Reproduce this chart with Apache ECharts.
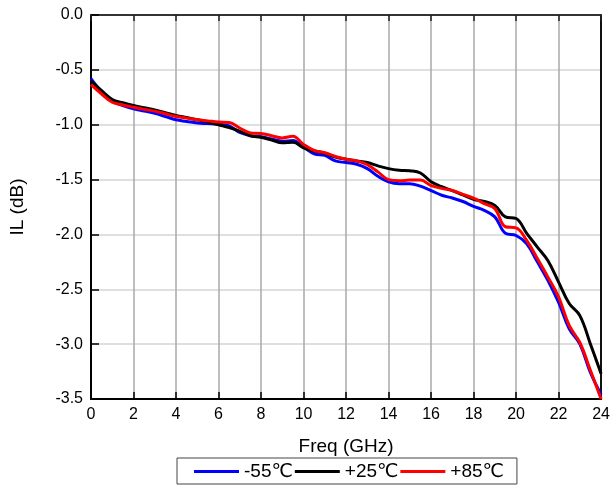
<!DOCTYPE html>
<html>
<head>
<meta charset="utf-8">
<script src="https://cdn.jsdelivr.net/npm/echarts@6/dist/echarts.min.js"></script>
<style>
  html, body { margin: 0; padding: 0; background: #fff; }
  #chart { width: 613px; height: 489px; }
</style>
</head>
<body>
<div id="chart"></div>
<script>
// 频率点 0 ~ 24 GHz，步长 0.5
const freq = [0, 0.5, 1, 1.5, 2, 2.5, 3, 3.5, 4, 4.5, 5, 5.5, 6, 6.5, 7, 7.5, 8, 8.5, 9, 9.5,
  10, 10.5, 11, 11.5, 12, 12.5, 13, 13.5, 14, 14.5, 15, 15.5, 16, 16.5, 17, 17.5, 18, 18.5, 19, 19.5,
  20, 20.5, 21, 21.5, 22, 22.5, 23, 23.5, 24]

const seriesNames = ['-55℃', '+25℃', '+85℃']

const ilMinus55 = [-0.58, -0.70, -0.785, -0.825, -0.855, -0.875, -0.895, -0.925, -0.955, -0.97,
  -0.985, -0.99, -0.995, -1.01, -1.07, -1.10, -1.11, -1.13, -1.15, -1.145,
  -1.205, -1.265, -1.28, -1.33, -1.345, -1.36, -1.40, -1.47, -1.52, -1.537,
  -1.537, -1.56, -1.60, -1.643, -1.668, -1.70, -1.744, -1.78, -1.84, -1.99,
  -2.01, -2.085, -2.25, -2.42, -2.62, -2.86, -3.00, -3.26, -3.46]

const ilPlus25 = [-0.60, -0.69, -0.77, -0.80, -0.825, -0.845, -0.865, -0.89, -0.915, -0.935,
  -0.955, -0.975, -1.00, -1.025, -1.06, -1.10, -1.115, -1.14, -1.165, -1.16,
  -1.21, -1.24, -1.26, -1.295, -1.315, -1.33, -1.345, -1.375, -1.40, -1.415,
  -1.42, -1.44, -1.52, -1.565, -1.60, -1.64, -1.68, -1.70, -1.735, -1.84,
  -1.855, -1.99, -2.115, -2.24, -2.435, -2.63, -2.74, -3.00, -3.27]

const ilPlus85 = [-0.635, -0.72, -0.795, -0.82, -0.84, -0.86, -0.876, -0.90, -0.925, -0.94,
  -0.955, -0.965, -0.975, -0.98, -1.03, -1.075, -1.08, -1.10, -1.12, -1.105,
  -1.18, -1.235, -1.255, -1.29, -1.315, -1.33, -1.365, -1.43, -1.50, -1.51,
  -1.505, -1.505, -1.555, -1.58, -1.60, -1.635, -1.67, -1.72, -1.765, -1.93,
  -1.94, -2.055, -2.22, -2.39, -2.57, -2.83, -2.985, -3.24, -3.50]

const colors = ['#0000ff', '#000000', '#ff0000']
const allData = [ilMinus55, ilPlus25, ilPlus85]

const font = 'Liberation Sans, Arial, DejaVu Sans, sans-serif'

const chart = echarts.init(document.getElementById('chart'))

const option = {
  animation: false,
  backgroundColor: '#fff',
  grid: { left: 91, right: 9, top: 15, bottom: 90 },
  legend: {
    left: 177,
    top: 458,
    padding: [4, 13, 3, 17],
    itemWidth: 45,
    itemHeight: 3,
    itemGap: 2,
    icon: 'rect',
    borderColor: '#444',
    borderWidth: 1,
    data: seriesNames,
    textStyle: { color: '#000', fontSize: 19, fontFamily: font }
  },
  xAxis: [
    {
      type: 'value',
      min: 0,
      max: 24,
      interval: 2,
      name: 'Freq (GHz)',
      nameLocation: 'middle',
      nameGap: 38,
      nameTextStyle: { color: '#000', fontSize: 19, fontFamily: font },
      axisLine: { show: true, onZero: false, lineStyle: { color: '#000', width: 2 } },
      axisTick: { show: true, inside: true, length: 7, lineStyle: { color: '#000', width: 1.5 } },
      axisLabel: { color: '#000', fontSize: 16, fontFamily: font, margin: 8 },
      splitLine: { show: true, lineStyle: { color: '#a8a8a8', width: 1.5 } }
    },
    {
      type: 'value',
      position: 'top',
      min: 0,
      max: 24,
      interval: 2,
      axisLine: { show: true, onZero: false, lineStyle: { color: '#333', width: 2 } },
      axisTick: { show: true, inside: true, length: 6, lineStyle: { color: '#222', width: 1.5 } },
      axisLabel: { show: false },
      splitLine: { show: false }
    }
  ],
  yAxis: [
    {
      type: 'value',
      min: -3.5,
      max: 0,
      interval: 0.5,
      name: 'IL (dB)',
      nameLocation: 'middle',
      nameGap: 64,
      nameTextStyle: { color: '#000', fontSize: 19, fontFamily: font },
      axisLine: { show: true, onZero: false, lineStyle: { color: '#000', width: 2 } },
      axisTick: { show: true, inside: true, length: 8, lineStyle: { color: '#000', width: 1.5 } },
      axisLabel: {
        color: '#000', fontSize: 16, fontFamily: font, margin: 8,
        formatter: v => v.toFixed(1)
      },
      splitLine: { show: true, lineStyle: { color: '#d4d4d4', width: 1.5 } }
    },
    {
      type: 'value',
      position: 'right',
      min: -3.5,
      max: 0,
      interval: 0.5,
      axisLine: { show: true, onZero: false, lineStyle: { color: '#111', width: 2 } },
      axisTick: { show: false },
      axisLabel: { show: false },
      splitLine: { show: false }
    }
  ],
  series: seriesNames.map((name, i) => {
    return {
      name: name,
      type: 'line',
      xAxisIndex: 0,
      yAxisIndex: 0,
      smooth: 0.4,
      symbol: 'none',
      color: colors[i],
      lineStyle: { color: colors[i], width: 3 },
      data: freq.map((f, j) => [f, allData[i][j]])
    }
  })
}

chart.setOption(option)
window.addEventListener('resize', () => {
  chart.resize()
})
</script>
</body>
</html>
